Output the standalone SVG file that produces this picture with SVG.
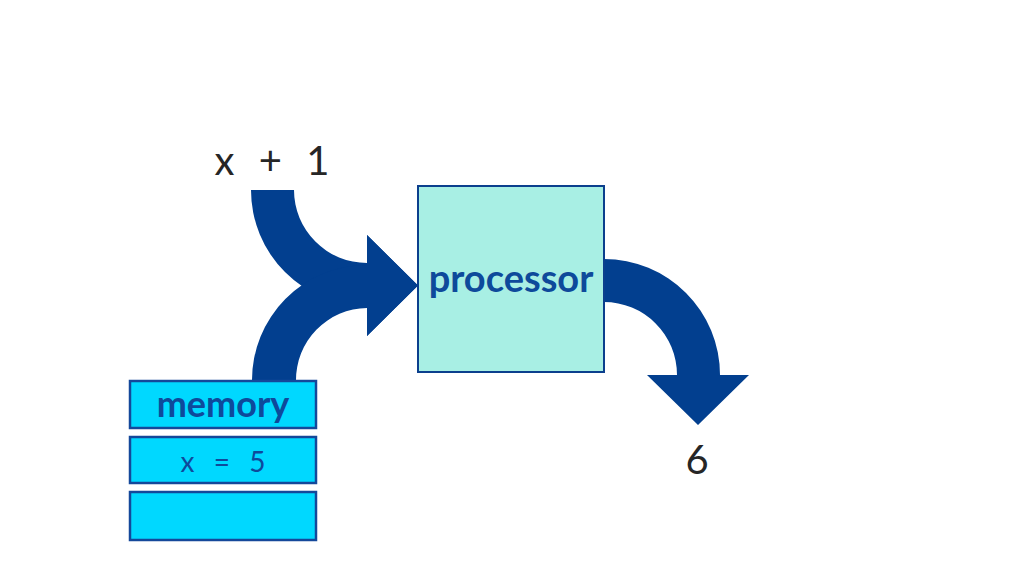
<svg xmlns="http://www.w3.org/2000/svg" width="1024" height="576" viewBox="0 0 1024 576">
<style>
.arrow{fill:#023F8F;}
.proc{fill:#A8EFE4;stroke:#0B3F8D;stroke-width:2;}
.mem{fill:#00D8FF;stroke:#14489A;stroke-width:2.5;}
.lbl{font-family:Lato,"Liberation Sans",sans-serif;fill:#0E4A9B;text-anchor:middle;}
.val{font-family:Lato,"Liberation Sans",sans-serif;fill:#262626;text-anchor:middle;}
</style>
<rect width="1024" height="576" fill="#ffffff"/>
<g id="connectors">
<path class="arrow" d="M251,190 L294,190 A73,73 0 0 0 367,263 L367,235 L418,285.5 L367,336 L367,306 A116,116 0 0 1 251,190 Z"/>
<path class="arrow" d="M252,381 L296,381 A72,72 0 0 1 367,308 L367,336 L418,285.5 L367,235 L367,265 A115,115 0 0 0 252,381 Z"/>
<path class="arrow" d="M604,259 A116,116 0 0 1 720,375 L749,375 L698,425 L647,375 L677,375 A73,73 0 0 0 604,302 Z"/>
</g>
<g id="input">
<text class="val" x="272" y="175" font-size="40" word-spacing="14">x + 1</text>
</g>
<g id="processor">
<rect class="proc" x="418" y="186" width="186" height="186"/>
<text class="lbl" x="511" y="292" font-size="38" font-weight="bold">processor</text>
</g>
<g id="memory">
<rect class="mem" x="130" y="381" width="186" height="47"/>
<text class="lbl" x="223" y="417" font-size="36" font-weight="bold">memory</text>
</g>
<g id="memory-x">
<rect class="mem" x="130" y="437" width="186" height="46"/>
<text class="lbl" x="223" y="472" font-size="28" word-spacing="12">x = 5</text>
</g>
<g id="memory-empty">
<rect class="mem" x="130" y="492" width="186" height="48"/>
</g>
<g id="output">
<text class="val" x="697" y="474" font-size="40">6</text>
</g>
</svg>
